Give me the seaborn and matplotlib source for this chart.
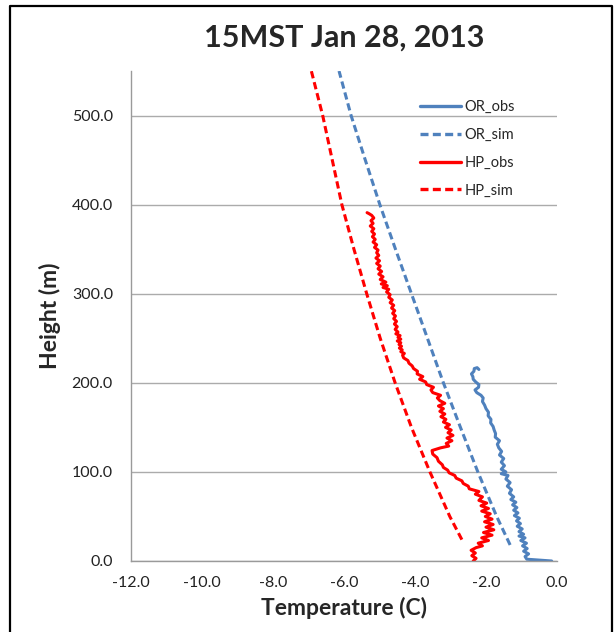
import numpy as np
import pandas as pd
import matplotlib
matplotlib.use("Agg")
import matplotlib.pyplot as plt
from matplotlib.lines import Line2D
import seaborn as sns

# values (height in m, temperature in C)
or_obs_h = [0, 1, 2, 5, 8, 11, 14, 17, 20, 23, 26, 28, 30, 33, 36, 39, 42, 45, 48,
            51, 54, 57, 60, 63, 66, 69, 72, 76, 80, 84, 88, 92, 96, 98, 100, 103,
            107, 111, 115, 119, 123, 127, 131, 135, 139, 143, 147, 151, 155, 159,
            163, 167, 171, 175, 179, 183, 186, 189, 192, 195, 198, 201, 204, 207,
            210, 213, 216, 217, 215]
or_obs_t = [-0.15, -0.50, -0.85, -0.90, -0.80, -0.94, -0.84, -0.97, -0.86, -1.02,
            -0.90, -1.07, -0.94, -1.07, -0.98, -1.12, -1.03, -1.14, -1.06, -1.20,
            -1.10, -1.22, -1.13, -1.25, -1.16, -1.30, -1.22, -1.34, -1.28, -1.40,
            -1.32, -1.44, -1.38, -1.57, -1.44, -1.57, -1.48, -1.57, -1.50, -1.62,
            -1.56, -1.64, -1.68, -1.62, -1.74, -1.73, -1.77, -1.80, -1.87, -1.86,
            -1.94, -1.93, -2.00, -2.04, -2.10, -2.08, -2.14, -2.26, -2.31, -2.21,
            -2.20, -2.29, -2.36, -2.37, -2.41, -2.34, -2.33, -2.25, -2.20]

or_sim_h = [18, 50, 100, 150, 200, 250, 300, 350, 400, 450, 500, 550]
or_sim_t = [-1.32, -1.70, -2.23, -2.72, -3.20, -3.65, -4.10, -4.55, -4.99, -5.40,
            -5.80, -6.14]

hp_obs_h = [0, 3, 6, 9, 12, 15, 17, 20, 23, 26, 29, 32, 35, 38, 41, 44, 47, 50, 53,
            56, 59, 62, 65, 68, 72, 75, 78, 81, 84, 87, 90, 93, 96, 99, 102, 105,
            108, 112, 116, 120, 124, 127, 129, 132, 135, 138, 141, 144, 147, 150,
            153, 156, 159, 162, 165, 168, 171, 174, 177, 180, 183, 186, 189, 192,
            195, 198, 201, 204, 207, 210, 213, 216, 219, 222, 225, 228, 231, 233,
            235, 237, 239, 241, 243, 245, 247, 249, 251, 253, 255, 257, 260, 263,
            266, 269, 272, 275, 278, 281, 284, 287, 290, 293, 296, 299, 302, 305,
            307, 309, 311, 313, 316, 319, 322, 325, 328, 331, 334, 337, 340, 343,
            346, 349, 352, 355, 358, 361, 364, 367, 370, 373, 376, 379, 382, 385,
            388, 390, 391]
hp_obs_t = [-2.36, -2.28, -2.40, -2.30, -2.42, -2.28, -2.10, -2.22, -1.93, -2.12,
            -1.83, -2.07, -1.78, -2.00, -1.80, -2.04, -1.83, -2.02, -1.88, -2.12,
            -1.93, -2.14, -1.98, -2.20, -2.10, -2.30, -2.20, -2.47, -2.50, -2.64,
            -2.68, -2.84, -2.88, -3.04, -3.08, -3.20, -3.23, -3.34, -3.38, -3.50,
            -3.52, -3.28, -3.05, -3.12, -2.96, -3.10, -2.93, -3.07, -2.98, -3.14,
            -3.03, -3.20, -3.13, -3.27, -3.16, -3.30, -3.20, -3.34, -3.16, -3.30,
            -3.37, -3.28, -3.50, -3.55, -3.48, -3.67, -3.70, -3.87, -3.78, -3.94,
            -3.93, -4.04, -4.08, -4.17, -4.20, -4.32, -4.35, -4.30, -4.40, -4.36,
            -4.44, -4.38, -4.45, -4.40, -4.50, -4.40, -4.48, -4.42, -4.54, -4.48,
            -4.56, -4.50, -4.58, -4.52, -4.60, -4.55, -4.63, -4.57, -4.66, -4.60,
            -4.70, -4.64, -4.74, -4.70, -4.80, -4.74, -4.90, -4.78, -4.95, -4.82,
            -4.98, -4.90, -5.02, -4.94, -5.04, -4.98, -5.08, -5.00, -5.10, -5.02,
            -5.08, -5.04, -5.14, -5.08, -5.18, -5.12, -5.20, -5.14, -5.22, -5.16,
            -5.26, -5.18, -5.24, -5.16, -5.22, -5.30, -5.35]

hp_sim_h = [24, 50, 100, 150, 200, 250, 300, 350, 400, 450, 500, 550]
hp_sim_t = [-2.68, -3.02, -3.58, -4.10, -4.56, -4.98, -5.36, -5.72, -6.06, -6.33,
            -6.60, -6.92]

x_ticks = [-12.0, -10.0, -8.0, -6.0, -4.0, -2.0, 0.0]
y_ticks = [0.0, 100.0, 200.0, 300.0, 400.0, 500.0]

BLUE = "#4F81BD"
RED = "#FF0000"

sns.set_style("white")
plt.rcParams["font.family"] = ["Lato", "DejaVu Sans"]

fig = plt.figure(figsize=(6.16, 6.32), dpi=100)
ax = fig.add_axes([131 / 616, 1 - 561 / 632, 426 / 616, 490 / 632])

series = [
    ("OR_obs", or_obs_t, or_obs_h, BLUE, "-"),
    ("OR_sim", or_sim_t, or_sim_h, BLUE, "--"),
    ("HP_obs", hp_obs_t, hp_obs_h, RED, "-"),
    ("HP_sim", hp_sim_t, hp_sim_h, RED, "--"),
]
for name, t, h, col, ls in series:
    df = pd.DataFrame({"temp": t, "height": h})
    sns.lineplot(data=df, x="temp", y="height", sort=False, estimator=None,
                 color=col, linewidth=2.2, ax=ax, label=name)
    line = ax.get_lines()[-1]
    if ls == "--":
        line.set_dashes((2.4, 1.3))

ax.set_xlim(-12, 0)
ax.set_ylim(0, 550)
ax.set_xticks(x_ticks)
ax.set_yticks(y_ticks)
ax.set_xticklabels([f"{v:.1f}" for v in x_ticks])
ax.set_yticklabels([f"{v:.1f}" for v in y_ticks])
ax.grid(axis="y", color="#ABABAB", linewidth=1.0)
ax.grid(axis="x", visible=False)
ax.set_axisbelow(True)
for s in ["top", "right"]:
    ax.spines[s].set_visible(False)
for s in ["left", "bottom"]:
    ax.spines[s].set_color("#9A9A9A")
    ax.spines[s].set_linewidth(1.0)
ax.tick_params(axis="x", direction="inout", length=10, width=1.0, color="#9A9A9A",
               labelsize=11.5, labelcolor="#222222", pad=6)
ax.tick_params(axis="y", direction="out", length=5, width=1.0, color="#9A9A9A",
               labelsize=11.5, labelcolor="#222222", pad=8)

ax.set_xlabel("Temperature (C)", fontsize=16.5, fontweight="bold", labelpad=5)
ax.set_ylabel("Height (m)", fontsize=16.5, fontweight="bold", labelpad=8)
fig.text(344 / 616, 1 - 38 / 632, "15MST Jan 28, 2013", ha="center", va="center",
         fontsize=22, fontweight="bold")

leg = ax.legend(loc="upper left", bbox_to_anchor=(420 / 616, 1 - 100 / 632),
                bbox_transform=fig.transFigure, frameon=False, fontsize=10.5,
                handlelength=2.8, handletextpad=0.25, labelspacing=0.95,
                borderpad=0, borderaxespad=0)
for lh in leg.get_lines():
    lh.set_linewidth(2.4)

# chart-area border
fig.add_artist(Line2D([10 / 616, 10 / 616, 612 / 616, 612 / 616],
                      [0, 1 - 6 / 632, 1 - 6 / 632, 0],
                      transform=fig.transFigure, color="black", linewidth=1.6))

fig.savefig("out.png", dpi=100)
